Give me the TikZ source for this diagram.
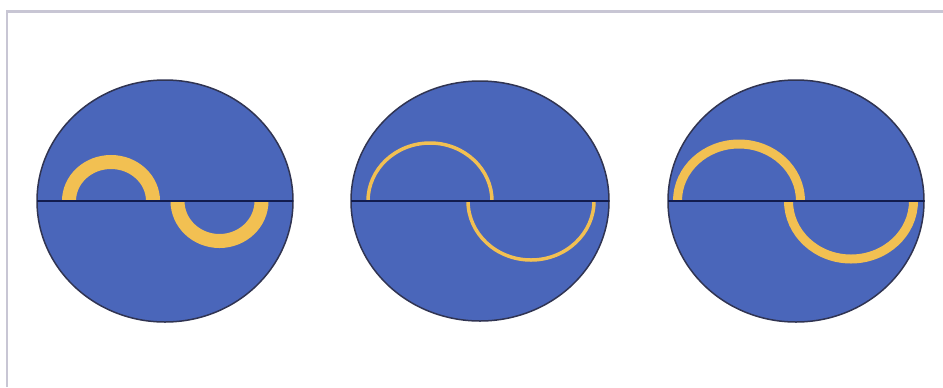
\documentclass[tikz,border=0pt]{standalone}
\usepackage{tikz}

\definecolor{diskblue}{RGB}{74,102,186}
\definecolor{diskedge}{RGB}{48,52,82}
\definecolor{midnavy}{RGB}{18,28,78}
\definecolor{waveyellow}{RGB}{242,192,82}
\definecolor{framegray}{RGB}{200,198,212}

\tikzset{
  disk/.style={fill=diskblue, draw=diskedge, line width=0.03cm},
  midline/.style={draw=midnavy, line width=0.04cm},
  wave/.style={draw=waveyellow},
}

\begin{document}
\begin{tikzpicture}[x=0.02cm,y=0.02cm]
\useasboundingbox (0,0) rectangle (943,387);
\fill[white] (0,0) rectangle (943,387);

% frame, only top and left edges show
\draw[framegray, line width=0.045cm] (7,0) -- (7,375.5) -- (943,375.5);

% left disk: thick short wave
\path[disk] (165,186) ellipse [x radius=128, y radius=121];
\draw[wave, line width=0.28cm] (69,186) arc[start angle=180, end angle=0, x radius=42, y radius=39];
\draw[wave, line width=0.28cm] (177.5,186) arc[start angle=180, end angle=360, x radius=42, y radius=40];
\draw[midline] (37,186) -- (293,186);

% middle disk: thin long wave
\path[disk] (480,186) ellipse [x radius=129, y radius=120];
\draw[wave, line width=0.07cm] (368,186) arc[start angle=180, end angle=0, x radius=62, y radius=58];
\draw[wave, line width=0.07cm] (468,186) arc[start angle=180, end angle=360, x radius=63, y radius=59];
\draw[midline] (351,186) -- (609,186);

% right disk: medium long wave
\path[disk] (796,186) ellipse [x radius=128, y radius=121];
\draw[wave, line width=0.18cm] (677.5,186) arc[start angle=180, end angle=0, x radius=61.5, y radius=57];
\draw[wave, line width=0.18cm] (788.5,186) arc[start angle=180, end angle=360, x radius=62.5, y radius=58];
\draw[midline] (668,186) -- (924,186);
\end{tikzpicture}
\end{document}
